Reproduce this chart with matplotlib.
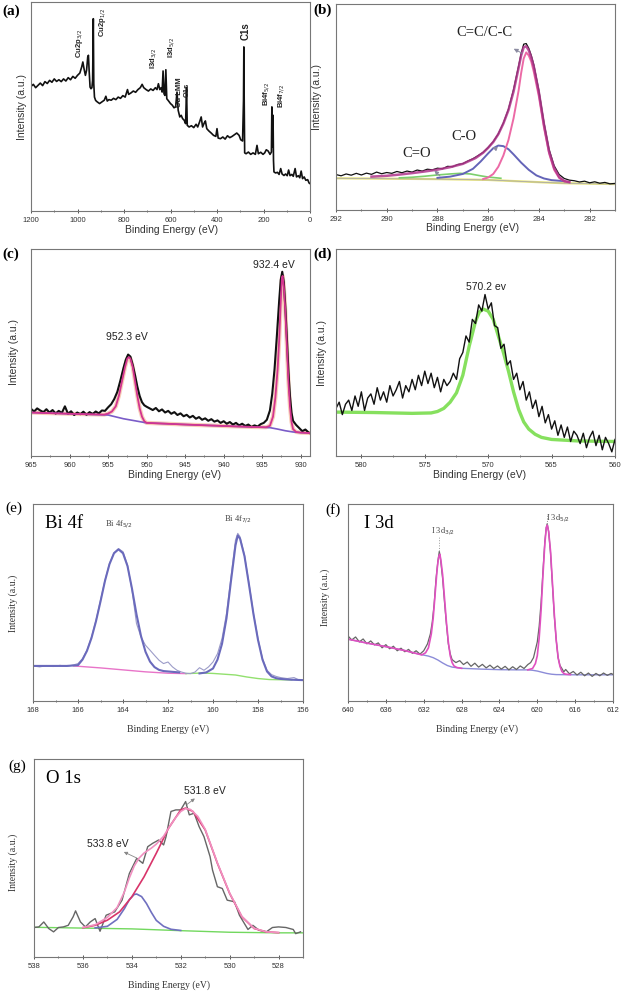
import matplotlib
matplotlib.use("Agg")
import matplotlib.pyplot as plt
from matplotlib.ticker import MultipleLocator

# ---------------- data: (a) survey ----------------
a_ev = [1200,1190,1180,1170,1160,1150,1140,1130,1120,1110,1100,1090,1080,1070,1060,1050,1040,1030,1020,1010,
        1000,990,982,977,972,966,961,956,953,950,946,942,938,935,933,932,930,927,922,915,905,895,885,878,872,865,
        855,845,835,825,815,805,795,785,780,770,760,750,740,730,722,715,705,695,685,675,665,658,652,646,640,636,
        632,628,624,620,616,610,600,592,585,578,572,567,560,554,548,541,535,531,528,520,510,500,490,483,475,468,
        462,455,450,444,435,425,415,405,400,395,385,375,365,355,345,335,325,315,305,298,290,286,284.5,283,281,275,
        265,255,245,235,228,222,212,202,195,188,180,172,166,164,162,159,157,155,148,140,133,126,120,112,105,98,92,
        86,78,72,64,58,50,44,38,32,25,18,10,4,0]
a_int = [59.6,60.6,59.0,60.1,61.2,60.0,61.9,61.0,62.5,61.6,63.2,62.0,62.8,61.9,63.2,62.2,63.8,62.8,64.4,63.5,
         64.9,66.0,68.9,71.3,68.1,64.9,67.3,73.7,74.5,67.3,59.3,58.5,59.0,62.5,85.0,92.0,60.9,54.5,52.9,52.2,51.4,52.2,53.0,54.9,52.6,53.3,
         53.0,53.9,53.3,54.5,53.9,55.2,54.5,58.1,55.8,56.5,57.4,56.8,58.1,59.0,60.6,59.0,58.1,57.4,58.4,57.7,59.0,58.1,60.9,58.1,59.0,56.9,
         67.0,56.1,55.3,67.6,53.7,52.9,51.4,50.6,49.4,49.8,56.9,48.2,45.0,45.8,44.2,43.4,41.8,59.0,41.0,40.2,40.8,39.9,41.5,40.2,42.6,45.0,
         40.2,42.1,43.1,39.4,38.3,37.3,36.2,35.7,39.4,34.9,34.6,35.4,34.4,36.0,35.1,35.7,36.5,37.3,36.2,34.1,33.5,52.9,78.5,52.9,27.8,27.4,
         28.2,27.1,27.8,27.1,31.4,27.4,28.1,27.1,27.8,29.3,28.7,27.1,28.2,49.8,30.6,45.8,24.2,18.7,18.2,18.5,17.5,20.3,17.7,17.0,17.7,16.9,19.6,
         16.9,17.5,16.6,20.3,16.3,16.9,15.9,19.1,15.5,16.3,14.7,15.0,13.4,13.1]
a_labels = ["Cu2p$_{3/2}$", "Cu2p$_{1/2}$", "I3d$_{3/2}$", "I3d$_{5/2}$", "Cu LMM", "O1s", "C1s", "Bi4f$_{5/2}$", "Bi4f$_{7/2}$"]
a_label_ev = [990, 894, 671, 594, 562, 530, 276, 187, 122]
a_label_y = [80, 90, 73, 78, 57, 58, 86, 56, 55]

# ---------------- data: (b) C 1s ----------------
b_ev = [292.0,291.8,291.6,291.4,291.2,291.0,290.8,290.6,290.4,290.2,290.0,289.8,289.6,289.4,289.2,289.0,288.8,288.6,288.4,288.2,
        288.0,287.8,287.6,287.4,287.2,287.0,286.8,286.6,286.4,286.2,286.0,285.8,285.6,285.4,285.2,285.0,284.8,284.7,284.6,284.5,
        284.4,284.3,284.2,284.0,283.8,283.6,283.4,283.2,283.0,282.8,282.6,282.4,282.2,282.0,281.8,281.6,281.4,281.2,281.0]
b_int = [17.2,16.6,17.5,16.9,17.8,17.0,17.9,17.3,18.4,17.6,18.2,17.8,18.7,18.1,18.9,18.4,19.4,18.9,19.8,19.5,
         20.3,20.0,21.2,21.0,22.1,22.5,23.8,24.9,26.4,28.0,30.4,33.2,37.0,42.3,49.0,58.5,70.0,76.0,80.5,80.8,
         78.5,75.0,70.5,58.0,42.5,29.5,21.5,17.2,15.3,14.5,14.2,13.6,14.0,13.2,13.7,13.0,13.4,12.7,12.9]
b_env_ev = [290.6,290,289.5,289,288.5,288,287.5,287,286.5,286.2,286,285.8,285.6,285.4,285.2,285,284.8,284.7,284.6,284.5,
            284.4,284.3,284.2,284,283.8,283.6,283.4,283.2,283,282.8]
b_env = [16.2,16.6,17.2,17.9,18.7,19.6,20.8,22.4,25.2,27.8,30.2,33.0,36.8,42.0,48.5,57.5,69.0,75.0,79.0,79.5,
         77.5,74.0,69.5,57.0,41.5,28.5,20.5,16.0,14.0,13.5]
b_cc_ev = [286.2,286,285.8,285.6,285.4,285.2,285,284.8,284.7,284.6,284.5,284.4,284.3,284.2,284,283.8,283.6,283.4,283.2,283,282.8]
b_cc = [15.0,15.8,17.5,21.0,26.5,34.0,44.5,58.0,66.5,73.5,76.5,75.0,72.0,67.0,55.0,40.0,27.5,19.5,15.5,14.0,13.6]
b_co_ev = [288,287.5,287,286.6,286.3,286,285.8,285.6,285.4,285.2,285,284.7,284.4,284.1,283.8,283.5,283]
b_co = [15.6,16.2,17.5,20.0,23.5,27.5,30.0,31.3,31.0,29.5,27.0,23.0,19.5,16.8,15.3,14.5,14.0]
b_cdo_ev = [289.5,289,288.5,288,287.5,287.1,286.7,286.3,286,285.5]
b_cdo = [15.6,15.9,16.4,17.0,17.5,17.8,17.5,16.6,16.0,15.4]
b_bg_ev = [292,290,288,286,284,283,281]
b_bg = [15.4,15.2,15.0,14.6,13.5,13.0,12.6]

# ---------------- data: (c) Cu 2p ----------------
c_ev = [965.0,964.6,964.2,963.8,963.4,963.0,962.6,962.2,961.8,961.4,961.0,960.6,960.2,959.8,959.4,959.0,958.6,958.2,957.8,957.4,
        957.0,956.6,956.2,955.8,955.4,955.0,954.6,954.2,953.8,953.4,953.0,952.7,952.4,952.1,951.8,951.5,951.2,950.9,950.6,950.3,
        950.0,949.6,949.2,948.8,948.4,948.0,947.6,947.2,946.8,946.4,946.0,945.6,945.2,944.8,944.4,944.0,943.6,943.2,942.8,942.4,
        942.0,941.6,941.2,940.8,940.4,940.0,939.6,939.2,938.8,938.4,938.0,937.6,937.2,936.8,936.4,936.0,935.6,935.2,934.8,934.4,
        934.0,933.7,933.4,933.1,932.8,932.6,932.4,932.2,932.0,931.8,931.6,931.4,931.2,931.0,930.6,930.2,929.8,929.4,929.0,928.8]
c_int = [22.8,21.5,23.0,22.0,21.2,22.6,21.0,22.2,20.5,21.8,20.8,24.0,20.4,21.6,19.8,21.0,20.2,21.4,19.9,21.2,
         20.3,21.5,20.6,22.0,21.8,23.5,25.0,27.5,31.0,36.5,42.5,46.5,49.0,48.0,44.0,39.0,33.5,29.0,26.0,24.5,
         23.8,23.0,22.2,23.2,21.6,22.5,21.0,21.8,20.4,21.2,19.8,20.6,19.2,19.9,18.6,19.4,18.0,18.8,17.5,18.2,
         17.0,17.8,16.6,17.2,16.0,16.8,15.6,16.4,15.2,16.0,14.8,15.6,14.5,15.2,14.0,14.8,14.2,15.4,16.0,17.5,
         22.0,30.0,42.0,58.0,75.0,85.0,89.0,84.0,72.0,57.0,41.0,29.0,21.0,17.0,15.0,13.5,12.0,12.8,11.4,11.0]
c_bg_ev = [965,960,955,953,950,945,940,936,934,933,932,931,930,928.8]
c_bg = [21.0,20.4,19.8,18.0,16.0,15.2,14.5,14.0,13.7,13.0,12.2,11.6,11.3,11.1]
c_fit_ev = [965,960,955.5,955,954.5,954,953.6,953.2,952.8,952.5,952.3,952.1,951.8,951.5,951.2,950.9,950.6,950.3,950,
            945,940,936,934.5,934,933.6,933.3,933,932.8,932.6,932.45,932.35,932.2,932,931.8,931.6,931.4,931.2,931,930.6,930,928.8]
c_fit = [21.0,20.4,20.0,20.5,21.5,24.0,29.0,36.0,43.0,47.0,47.8,47.0,43.0,36.0,29.0,23.0,19.0,16.8,16.0,
         15.2,14.5,14.0,13.9,14.6,19.0,28.0,42.0,56.0,74.0,86.0,87.0,82.0,70.0,53.0,36.0,24.0,16.5,13.0,11.6,11.3,11.1]
c_labels = ["952.3 eV", "932.4 eV"]

# ---------------- data: (d) Cu LMM ----------------
d_ev = [582.00,581.75,581.50,581.25,581.00,580.75,580.50,580.25,580.00,579.75,579.50,579.25,579.00,578.75,578.50,578.25,
        578.00,577.75,577.50,577.25,577.00,576.75,576.50,576.25,576.00,575.75,575.50,575.25,575.00,574.75,574.50,574.25,
        574.00,573.75,573.50,573.25,573.00,572.75,572.50,572.25,572.00,571.75,571.50,571.25,571.00,570.75,570.50,570.25,
        570.00,569.75,569.50,569.25,569.00,568.75,568.50,568.25,568.00,567.75,567.50,567.25,567.00,566.75,566.50,566.25,
        566.00,565.75,565.50,565.25,565.00,564.75,564.50,564.25,564.00,563.75,563.50,563.25,563.00,562.75,562.50,562.25,
        562.00,561.75,561.50,561.25,561.00,560.75,560.50,560.25,560.00]
d_int = [23,26,20,25,27,22,29,24,31,22,28,30,25,33,27,31,
         26,34,29,32,36,28,34,31,37,32,39,34,41,35,40,33,
         38,31,37,34,36,40,37,47,50,58,55,66,64,73,70,78,
         71,74,63,62,52,54,44,46,37,40,32,36,27,31,23,27,
         19,24,16,20,13,17,10,15,9,14,7,12,10,6,11,4,
         9,12,5,10,3,9,6,2,8]
d_fit_ev = [582,579,576,574.5,574,573.5,573,572.5,572,571.5,571,570.7,570.4,570,569.6,569.2,568.8,568.4,568,567.6,567.2,
            566.8,566.3,565.8,565,563,560]
d_fit = [21.2,21.0,20.6,20.8,21.5,23.0,26.0,30.5,39.0,53.0,65.0,69.5,71.0,70.0,66.0,58.0,50.0,41.0,31.0,22.5,16.5,
         13.0,10.5,9.0,8.0,7.3,7.0]
d_label = "570.2 ev"

# ---------------- data: (e) Bi 4f ----------------
e_ev = [168.0,167.7,167.4,167.1,166.8,166.5,166.2,166.0,165.8,165.6,165.4,165.2,165.0,164.8,164.6,164.4,164.2,164.0,163.8,163.6,
        163.4,163.2,163.0,162.8,162.6,162.4,162.2,162.0,161.8,161.6,161.4,161.2,161.0,160.8,160.6,160.4,160.2,160.0,159.8,159.6,
        159.4,159.2,159.0,158.9,158.8,158.6,158.4,158.2,158.0,157.8,157.6,157.4,157.2,157.0,156.7,156.4,156.2,156.0]
e_int = [17.8,17.3,18.0,17.5,18.1,17.6,18.3,19.0,21.5,25.8,32.5,41.0,51.2,61.4,69.8,75.3,77.3,75.8,69.0,56.3,
         39.3,32.5,28.3,25.8,23.2,20.7,19.0,19.8,17.3,15.6,14.7,14.1,13.9,14.7,16.9,15.6,17.3,19.8,24.0,31.7,
         44.4,63.0,81.7,85.1,83.4,74.0,59.7,44.4,31.7,21.5,15.6,13.4,12.5,11.9,11.4,11.9,10.8,10.5]
e_p1_ev = [168.0,167.0,166.5,166,165.8,165.6,165.4,165.2,165,164.8,164.6,164.4,164.2,164,163.8,163.6,163.4,163.2,163,162.8,
           162.6,162.4,162.2,162,161.5]
e_p1 = [17.8,17.8,17.8,18.2,21.0,25.5,32.0,40.5,50.5,61.0,69.5,75.0,77.0,75.0,68.5,57.0,44.0,33.0,25.0,20.0,
        17.2,15.8,15.2,15.0,14.5]
e_p2_ev = [160.6,160.3,160,159.8,159.6,159.4,159.2,159,158.9,158.8,158.6,158.4,158.2,158,157.8,157.6,157.4,157.2,157,156.5,156]
e_p2 = [14.0,14.5,16.5,21.0,29.0,42.0,61.0,79.0,84.0,82.5,73.5,59.0,44.0,31.0,21.0,15.0,12.5,11.6,11.2,10.8,10.6]
e_bg1_ev = [166.2,165,164,163,162,161.2]
e_bg1 = [17.8,16.8,15.8,14.8,14.1,13.9]
e_bg2_ev = [161.2,160.5,160,159,158.5,158,157.5,157,156.5]
e_bg2 = [13.9,14.2,14.0,13.2,12.2,11.4,10.9,10.8,10.7]

# ---------------- data: (f) I 3d ----------------
f_ev = [640,639.6,639.2,638.8,638.4,638,637.6,637.2,636.8,636.4,636,635.6,635.2,634.8,634.4,634,633.6,633.2,632.8,632.4,
        632,631.6,631.3,631.1,630.9,630.7,630.5,630.35,630.2,630,629.8,629.6,629.4,629.2,629,628.6,628.2,627.8,627.4,627,
        626.6,626.2,625.8,625.4,625,624.6,624.2,623.8,623.4,623,622.6,622.2,621.8,621.4,621,620.7,620.4,620.2,620,619.8,
        619.6,619.4,619.2,619.05,618.95,618.8,618.6,618.4,618.2,618,617.8,617.6,617.4,617.2,617,616.6,616.2,615.8,615.4,615,
        614.6,614.2,613.8,613.4,613,612.6,612.2,612]
f_int = [33,31,32.5,30,31.5,29,30.5,28.5,29.5,27,28.6,26.5,27.8,25.5,26.8,25,26.2,24.2,25.5,23.8,
         25.5,29,34,40,49,62,71,76,71,62,50,39,29,24,21,19.5,20.5,18.5,19.8,17.6,
         19.2,17.2,18.6,16.8,18.2,16.5,17.8,16.2,17.6,15.8,17.4,16.0,17.8,16.5,18.5,19.5,22,26,30,38,
         50,66,81,88,90,86,75,59,43,31,22,18,16.5,14.8,16,13.8,15,13.2,14.6,12.8,
         14.2,12.5,14,12.8,14.2,13,14,13.5]
f_bg_ev = [640,638,636,634,632.5,632,631.5,631,630.5,630,629.5,629,628,626,624,622,621,620.5,620,619.5,619,618.5,618,616,612]
f_bg = [31.4,29.4,27.6,25.6,23.8,23.3,22.8,22.0,20.8,19.3,18.0,17.2,16.6,16.2,15.9,15.8,15.8,15.6,15.2,14.6,14.0,13.6,13.4,13.3,13.3]
f_p1_ev = [640,638,636,634,632.2,631.8,631.5,631.2,631,630.8,630.6,630.5,630.4,630.3,630.2,630,629.8,629.6,629.4,629.2,629,628.8,628.5,628]
f_p1 = [31.4,29.4,27.6,25.6,23.4,24.5,27.0,34.0,42.0,54.0,66.0,70.5,73.5,74.5,72.0,64.0,52.0,40.0,30.0,23.0,19.5,17.8,17.0,16.6]
f_p2_ev = [621,620.5,620.2,620,619.8,619.6,619.4,619.2,619.05,618.95,618.8,618.6,618.4,618.2,618,617.8,617.6,617.4,617.2,617,616.5]
f_p2 = [15.8,16.5,19.0,23.0,32.0,46.0,64.0,80.0,88.0,89.3,86.0,76.0,60.0,44.0,31.0,22.0,17.5,15.0,14.0,13.6,13.4]

# ---------------- data: (g) O 1s ----------------
g_ev = [538.0,537.8,537.6,537.4,537.2,537.0,536.8,536.6,536.4,536.3,536.1,535.9,535.7,535.5,535.3,535.05,534.7,534.4,534.1,533.8,
        533.55,533.35,533.15,532.9,532.7,532.6,532.4,532.2,532.0,531.8,531.65,531.45,531.25,531.05,530.8,530.7,530.5,530.3,530.1,529.8,
        529.6,529.25,529.05,528.8,528.5,528.25,528.0,527.7,527.4,527.3,527.1]
g_int = [14.9,15.2,17.7,14.4,12.7,14.9,15.2,16.0,20.3,23.3,17.7,15.2,17.7,19.4,13.0,21.1,22.8,28.7,42.2,49.8,
         47.3,55.7,57.4,59.1,56.6,60.8,73.5,74.3,74.3,78.5,71.8,72.6,65.9,60.8,50.7,43.9,35.5,34.6,28.7,27.9,
         21.1,13.9,16.0,13.5,12.7,14.9,15.2,14.9,13.9,11.8,12.7]
g_bg_ev = [538,536,534,532,530,528,527]
g_bg = [15.0,14.6,14.2,13.3,12.5,12.2,12.2]
g_main_ev = [536,535.5,535,534.5,534,533.5,533,532.5,532,531.8,531.5,531,530.5,530,529.5,529,528.5,528]
g_main = [14.8,16.0,18.6,22.8,30.4,40.5,52.4,65.0,74.3,75.2,73.5,64.2,47.3,32.1,20.3,14.4,12.7,12.3]
g_env_ev = [536,535.5,535,534.6,534.3,534.1,533.9,533.7,533.5,533.2,533,532.7,532.5,532.2,532,531.8,531.6,531.3,531,530.5,530,529.5,529,528.5,528]
g_env = [14.9,16.3,20.0,25.0,33.0,40.0,46.0,50.0,52.5,55.0,57.0,61.0,65.0,70.5,73.5,75.0,74.5,71.0,64.5,47.5,32.3,20.5,14.5,12.7,12.3]
g_sm_ev = [535.5,535,534.6,534.3,534.1,533.9,533.8,533.6,533.4,533.2,533,532.7,532.4,532]
g_sm = [14.7,15.5,19.0,24.5,29.0,31.6,31.8,30.5,27.0,22.5,18.5,15.5,14.0,13.4]

# ---------------- figure ----------------
W, H = 623, 992
fig = plt.figure(figsize=(W / 100, H / 100), dpi=100)
SANS = ["Liberation Sans", "DejaVu Sans"]
SERIF = ["Liberation Serif", "DejaVu Serif"]
FRAME = "#777777"


def mk(l, t, r, b, xlim, major, minor, tickfont):
    ax = fig.add_axes([l / W, 1 - b / H, (r - l) / W, (b - t) / H])
    ax.set_xlim(*xlim)
    ax.set_ylim(0, 100)
    ax.set_yticks([])
    ax.xaxis.set_major_locator(MultipleLocator(major))
    ax.xaxis.set_minor_locator(MultipleLocator(minor))
    ax.tick_params(axis="x", which="major", direction="inout", length=3, width=0.7, colors="#555555",
                   labelsize=5.5, pad=2.5, labelcolor="#333333")
    ax.tick_params(axis="x", which="minor", direction="inout", length=2, width=0.6, colors="#555555")
    for lab in ax.get_xticklabels():
        lab.set_fontfamily(tickfont)
    for s in ax.spines.values():
        s.set_color(FRAME)
        s.set_linewidth(0.8)
    return ax


def ftext(px, py, s, **kw):
    fig.text(px / W, 1 - py / H, s, **kw)


def labels(xc, xy, yx, yc, fam, size):
    ftext(xc, xy, "Binding Energy (eV)", ha="center", va="center", fontsize=size, family=fam, color="#333333")
    ftext(yx, yc, "Intensity (a.u.)", ha="center", va="center", rotation=90, fontsize=size, family=fam, color="#333333")


# (a)
ax = mk(31, 2, 310, 211, (1200, 0), 200, 100, SANS)
ax.plot(a_ev, a_int, color="#111111", lw=1.2)
for s, x, y in zip(a_labels, a_label_ev, a_label_y):
    fs = 7 if s == "C1s" else 5.5
    ax.text(x, y, s, rotation=90, ha="center", va="center", fontsize=fs, fontweight="bold", family=SANS, color="#222222")
labels(172, 230, 22, 107, SANS, 7.5)
ftext(2, 11, "(a)", fontsize=11, family=SERIF, fontweight="bold", va="center")

# (b)
ax = mk(336, 4, 615, 210, (292, 281), 2, 1, SANS)
ax.plot(b_bg_ev, b_bg, color="#e6e27a", lw=1.6)
ax.plot(b_bg_ev, b_bg, color="#aaaaaa", lw=0.6)
ax.plot(b_cdo_ev, b_cdo, color="#7ccf6c", lw=1.2)
ax.plot(b_co_ev, b_co, color="#6464b8", lw=1.4)
ax.plot(b_cc_ev, b_cc, color="#ec6aa6", lw=1.4)
ax.plot(b_ev, b_int, color="#111111", lw=0.9)
ax.plot(b_env_ev, b_env, color="#b0358c", lw=1.8, alpha=0.85)
ax.annotate("C=C/C-C", xy=(284.65, 76), xytext=(286.15, 86), fontsize=10.5, family=SERIF,
            ha="center", va="center", color="#222222",
            arrowprops=dict(arrowstyle="<|-", color="#8a8aa0", lw=0.7, mutation_scale=6, shrinkA=10, shrinkB=0))
ax.annotate("C-O", xy=(285.75, 30), xytext=(286.95, 35.5), fontsize=10.5, family=SERIF, ha="center", va="center",
            color="#222222", arrowprops=dict(arrowstyle="<|-", color="#8a8aa0", lw=0.7, mutation_scale=6, shrinkA=10, shrinkB=0))
ax.annotate("C=O", xy=(287.9, 16.5), xytext=(288.8, 27.5), fontsize=10.5, family=SERIF, ha="center", va="center",
            color="#222222", arrowprops=dict(arrowstyle="<|-", color="#8a8aa0", lw=0.7, mutation_scale=6, shrinkA=8, shrinkB=0))
labels(473, 228, 317, 97, SANS, 7.5)
ftext(313, 10, "(b)", fontsize=11, family=SERIF, fontweight="bold", va="center")

# (c)
ax = mk(31, 249, 310, 456, (965, 928.8), 5, 2.5, SANS)
ax.plot(c_fit_ev, c_fit, color="#f7c2a8", lw=3.0, alpha=0.8)
ax.plot(c_ev, c_int, color="#111111", lw=1.5)
ax.plot(c_bg_ev, c_bg, color="#7a5cc8", lw=1.2)
ax.plot(c_fit_ev, c_fit, color="#d3348f", lw=1.3)
ax.text(952.6, 55, c_labels[0], ha="center", va="bottom", fontsize=7.5, family=SANS, color="#222222")
ax.text(933.5, 90, c_labels[1], ha="center", va="bottom", fontsize=7.5, family=SANS, color="#222222")
labels(175, 475, 14, 352, SANS, 7.5)
ftext(2, 254, "(c)", fontsize=11, family=SERIF, fontweight="bold", va="center")

# (d)
ax = mk(336, 249, 615, 456, (582, 560), 5, 2.5, SANS)
ax.plot(d_fit_ev, d_fit, color="#86e05e", lw=2.4)
ax.plot(d_ev, d_int, color="#111111", lw=1.0)
ax.text(570.2, 79, d_label, ha="center", va="bottom", fontsize=7.5, family=SANS, color="#222222")
labels(480, 475, 322, 353, SANS, 7.5)
ftext(313, 254, "(d)", fontsize=11, family=SERIF, fontweight="bold", va="center")

# (e)
ax = mk(33, 504, 303, 701, (168, 156), 2, 1, SANS)
ax.plot(e_bg1_ev, e_bg1, color="#e874c8", lw=1.0)
ax.plot(e_bg2_ev, e_bg2, color="#92e06e", lw=1.0)
ax.plot(e_ev, e_int, color="#9c9cc8", lw=0.8)
ax.plot(e_p1_ev, e_p1, color="#6a6abc", lw=1.5)
ax.plot(e_p2_ev, e_p2, color="#6a6abc", lw=1.5)
ax.text(0.045, 0.9, "Bi 4f", transform=ax.transAxes, fontsize=13.5, family=SERIF, va="center")
ax.text(164.2, 90, "Bi 4f$_{5/2}$", ha="center", va="center", fontsize=6, family=SERIF, color="#444444")
ax.text(158.9, 92.5, "Bi 4f$_{7/2}$", ha="center", va="center", fontsize=6, family=SERIF, color="#444444")
labels(168, 729, 13, 603, SERIF, 7)
ftext(5, 508, "(e)", fontsize=11, family=SERIF, va="center")

# (f)
ax = mk(348, 504, 613, 701, (640, 612), 4, 2, SANS)
ax.plot(f_bg_ev, f_bg, color="#8c8cd8", lw=1.0)
ax.plot(f_ev, f_int, color="#666666", lw=0.9)
ax.plot(f_p1_ev, f_p1, color="#e050c0", lw=1.2)
ax.plot(f_p2_ev, f_p2, color="#e050c0", lw=1.2)
ax.plot([630.4, 630.4], [76, 84], color="#999999", lw=0.7, ls=":")
ax.plot([619.0, 619.0], [90, 95], color="#999999", lw=0.7, ls=":")
ax.text(0.06, 0.9, "I 3d", transform=ax.transAxes, fontsize=13.5, family=SERIF, va="center")
ax.text(630.0, 86, "I 3d$_{3/2}$", ha="center", va="center", fontsize=6, family=SERIF, color="#444444")
ax.text(617.8, 93, "I 3d$_{5/2}$", ha="center", va="center", fontsize=6, family=SERIF, color="#444444")
labels(477, 729, 325, 597, SERIF, 7)
ftext(325, 510, "(f)", fontsize=11, family=SERIF, va="center")

# (g)
ax = mk(34, 759, 303, 957, (538, 527), 2, 1, SANS)
ax.plot(g_bg_ev, g_bg, color="#72d85e", lw=1.0)
ax.plot(g_ev, g_int, color="#666666", lw=1.0)
ax.plot(g_sm_ev, g_sm, color="#7070c0", lw=1.2)
ax.plot(g_main_ev, g_main, color="#d8346a", lw=1.2)
ax.plot(g_env_ev, g_env, color="#f090c0", lw=1.2)
ax.text(0.045, 0.9, "O 1s", transform=ax.transAxes, fontsize=13.5, family=SERIF, va="center")
ax.annotate("531.8 eV", xy=(531.75, 77), xytext=(531.0, 84), fontsize=7.5, family=SANS, ha="center", va="center",
            color="#222222", arrowprops=dict(arrowstyle="<|-", color="#888888", lw=0.6, mutation_scale=5, shrinkA=14, shrinkB=0))
ax.annotate("533.8 eV", xy=(533.8, 50), xytext=(535.0, 57), fontsize=7.5, family=SANS, ha="center", va="center",
            color="#222222", arrowprops=dict(arrowstyle="<|-", color="#888888", lw=0.6, mutation_scale=5, shrinkA=12, shrinkB=0))
labels(169, 985, 13, 862, SERIF, 7)
ftext(8, 766, "(g)", fontsize=11, family=SERIF, va="center")

fig.savefig("out.png", dpi=100)
